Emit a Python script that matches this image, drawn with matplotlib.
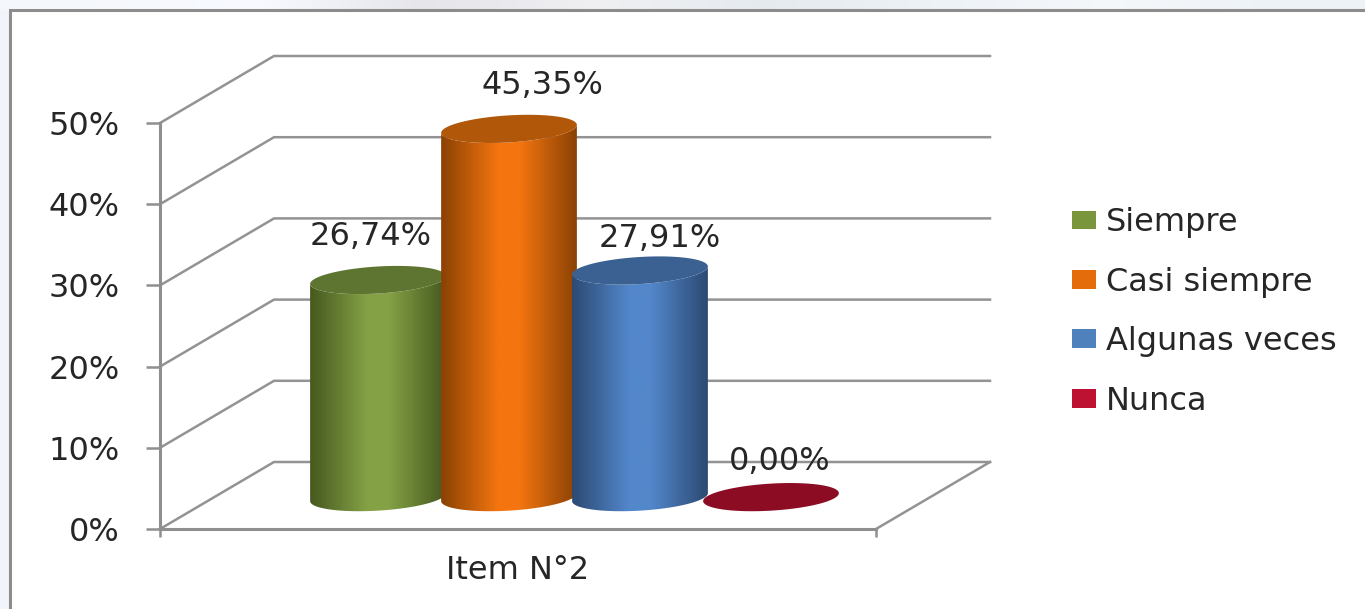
import matplotlib
matplotlib.use('Agg')
import matplotlib.pyplot as plt
import numpy as np
from matplotlib.colors import LinearSegmentedColormap
from matplotlib.patches import Patch, PathPatch, Rectangle
from matplotlib.path import Path

# Chart data
categories = ['Siempre', 'Casi siempre', 'Algunas veces', 'Nunca']
values = [26.74, 45.35, 27.91, 0.00]
group_label = 'Item N°2'
y_ticks = [0, 10, 20, 30, 40, 50]

# Colours per series: legend swatch, cap, dark edge, light centre
legend_colors = ['#7a963c', '#e46c0a', '#4f81bd', '#be1232']
cap_colors = ['#5d7530', '#b0570a', '#3a6191', '#8c0c24']
edge_colors = ['#46591f', '#8a4204', '#2c4a73', '#6d0a1c']
mid_colors = ['#84a145', '#f47510', '#5387cb', '#b0122c']

# Where each value label sits relative to its cylinder, in points
label_offsets = [(-5, 31), (24, 31), (14, 23), (6, 26)]

W, H = 1365, 609
GRID = '#939393'
TEXT = '#262626'
FONT = 23

plt.rcParams['font.family'] = 'DejaVu Sans'
fig = plt.figure(figsize=(W / 100, H / 100), dpi=100, facecolor='white')

# Pale slide background showing around the chart frame
bg = fig.add_axes([0, 0, 1, 1], zorder=0)
strip = np.array([[0.96, 0.97, 0.99], [0.97, 0.98, 1.0], [0.90, 0.90, 0.92],
                  [0.94, 0.94, 0.95], [0.90, 0.92, 0.94], [0.93, 0.95, 0.97],
                  [0.96, 0.97, 0.98], [0.93, 0.95, 0.97]])[None, :, :]
bg.imshow(strip, extent=[0, W, H, 0], aspect='auto', interpolation='bilinear')
bg.add_patch(Rectangle((0, 10), 10, H, color='#f1f4fb', lw=0))
bg.add_patch(Rectangle((10, 10), W, H, facecolor='white', edgecolor='#8c8c8c', lw=2.2))
bg.set_xlim(0, W)
bg.set_ylim(H, 0)
bg.axis('off')

# Front plane of the chart
left, right, top, bottom = 160, 876, 123, 529
ax = fig.add_axes([left / W, 1 - bottom / H, (right - left) / W, (bottom - top) / H], zorder=1)
ax.patch.set_alpha(0)

px_x = 131.0          # pixels per category step
px_y = (bottom - top) / 50.0
first_bar = 321       # pixel column of the first category on the front plane
x_min = (left - first_bar) / px_x
x_max = (right - first_bar) / px_x
ax.set_xlim(x_min, x_max)
ax.set_ylim(0, 50)

# Oblique depth of the box, in data units
depth_x = 114 / px_x
depth_y = 67 / px_y

# Back wall gridlines and side wall
for v in y_ticks:
    ax.plot([x_min, x_min + depth_x, x_max + depth_x], [v, v + depth_y, v + depth_y],
            color=GRID, lw=1.8, clip_on=False, zorder=1)
ax.plot([x_max, x_max + depth_x], [0, depth_y], color=GRID, lw=1.8, clip_on=False, zorder=1)

# Cylinder shape
a, b, tilt = 68.0, 13.5, np.radians(3.5)


def ellipse_points(cx, cy, t):
    dx = a * np.cos(t) * np.cos(tilt) - b * np.sin(t) * np.sin(tilt)
    dy = a * np.cos(t) * np.sin(tilt) + b * np.sin(t) * np.cos(tilt)
    return np.column_stack([cx + dx / px_x, cy + dy / px_y])


for i, v in enumerate(values):
    cx = i + depth_x / 2
    base = depth_y / 2 - 0.2
    t_low = np.linspace(np.pi, 2 * np.pi, 60)

    if v > 0:
        outline = np.vstack([ellipse_points(cx, base, t_low),
                             ellipse_points(cx, base + v, t_low[::-1])])
        body = PathPatch(Path(np.vstack([outline, outline[0]])), facecolor='none',
                         edgecolor='none', transform=ax.transData)
        ax.add_patch(body)
        cmap = LinearSegmentedColormap.from_list(
            'cyl', [edge_colors[i], mid_colors[i], mid_colors[i], edge_colors[i]])
        shade = np.interp(np.linspace(0, 1, 200), [0, 0.42, 0.58, 1], [0, 1 / 3, 2 / 3, 1])
        x0, x1 = cx - a / px_x, cx + a / px_x
        im = ax.imshow(shade[None, :], cmap=cmap, vmin=0, vmax=1, aspect='auto',
                       extent=[x0, x1, base - 3, base + v + 3], zorder=2 + i)
        im.set_clip_path(body)
        im.set_clip_on(True)

    cap = ellipse_points(cx, base + v, np.linspace(0, 2 * np.pi, 120))
    ax.fill(cap[:, 0], cap[:, 1], color=cap_colors[i], lw=0, clip_on=False, zorder=2.5 + i)

    # Value label with a decimal comma
    ax.annotate(f'{v:.2f}%'.replace('.', ','), (cx, base + v), xytext=label_offsets[i],
                textcoords='offset points', ha='center', va='center', fontsize=FONT,
                color=TEXT, zorder=10, annotation_clip=False)

# imshow resets the limits
ax.set_xlim(x_min, x_max)
ax.set_ylim(0, 50)

# Axes
for s in ['top', 'right']:
    ax.spines[s].set_visible(False)
for s in ['left', 'bottom']:
    ax.spines[s].set_color('#8f8f8f')
    ax.spines[s].set_linewidth(2.2)
    ax.spines[s].set_zorder(1.5)

ax.set_yticks(y_ticks)
ax.set_yticklabels([f'{v}%' for v in y_ticks], fontsize=FONT, color=TEXT)
ax.tick_params(axis='y', length=10, width=1.8, color='#8f8f8f', pad=19)

ax.set_xticks([x_min, x_max])
ax.set_xticklabels(['', ''])
ax.tick_params(axis='x', which='major', length=5.5, width=1.8, color='#8f8f8f')
ax.set_xticks([(x_min + x_max) / 2], minor=True)
ax.set_xticklabels([group_label], minor=True, fontsize=FONT, color=TEXT)
ax.tick_params(axis='x', which='minor', length=0, pad=19)

# Legend
handles = [Patch(facecolor=c, edgecolor='none', label=n) for c, n in zip(legend_colors, categories)]
leg = fig.legend(handles=handles, loc='center left', bbox_to_anchor=(1072 / W, 1 - 312 / H),
                 frameon=False, fontsize=FONT, handlelength=0.75, handleheight=0.53,
                 handletextpad=0.31, labelspacing=0.89, borderpad=0, borderaxespad=0,
                 labelcolor=TEXT)
leg.set_zorder(5)

fig.savefig('out.png', dpi=100)
